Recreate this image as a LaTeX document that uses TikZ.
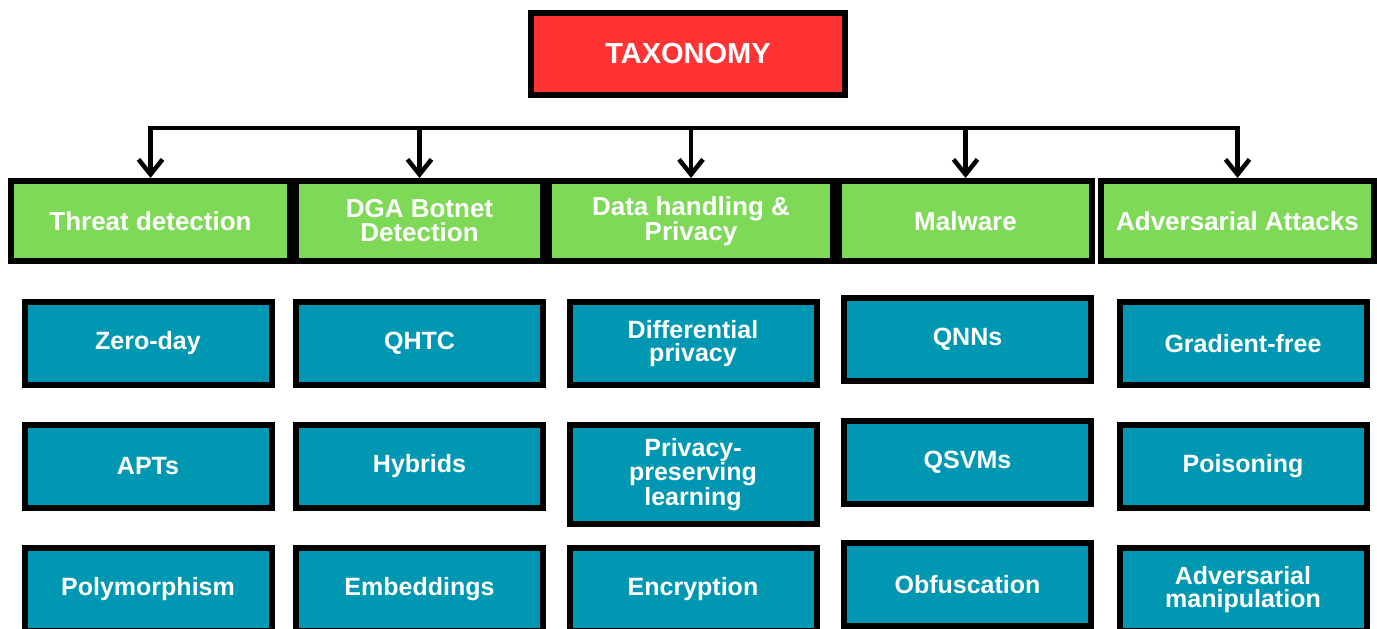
\documentclass[tikz,border=0pt]{standalone}
\usepackage{fontspec}
\setmainfont{Liberation Sans}
\usetikzlibrary{arrows.meta, positioning}
\definecolor{taxred}{RGB}{255,51,51}
\definecolor{catgreen}{RGB}{126,217,87}
\definecolor{leafblue}{RGB}{0,151,178}

\begin{document}
\begin{tikzpicture}[
        x=1pt, y=-1pt,
        rootbox/.style={rectangle, draw=black, line width=6pt, fill=taxred, text=white, minimum width=314pt, minimum height=82pt, align=center, font=\fontsize{29}{30}\selectfont\bfseries},
        catbox/.style={rectangle, draw=black, line width=6pt, fill=catgreen, text=white, minimum height=80pt, align=center, font=\fontsize{26}{24}\selectfont\bfseries},
        leafbox/.style={rectangle, draw=black, line width=6pt, fill=leafblue, text=white, minimum width=247pt, minimum height=83pt, align=center, font=\fontsize{25}{23}\selectfont\bfseries},
        link/.style={line width=4.5pt, line cap=rect},
        branch/.style={line width=4.5pt, -{Straight Barb[length=15pt, width=24pt]}}
    ]
        \useasboundingbox (0,0) rectangle (1377,629);

        \node[rootbox] (root) at (688,53.5) {TAXONOMY};
        \coordinate (bar) at (0,128);

        % categories
        \node[catbox, minimum width=279pt] (threat) at (150.5,221) {Threat detection};
        \node[catbox, minimum width=247pt, right=0pt of threat] (dga) {DGA Botnet\\Detection};
        \node[catbox, minimum width=284pt, right=0pt of dga] (data) {Data handling \&\\Privacy};
        \node[catbox, minimum width=253pt, right=0pt of data] (malware) {Malware};
        \node[catbox, minimum width=273pt, right=3pt of malware] (adv) {Adversarial Attacks};

        \draw[link] (threat.north |- bar) -- (adv.north |- bar);
        \draw[branch] (threat.north |- bar) -- (threat.north);
        \draw[branch] (dga.north |- bar) -- (dga.north);
        \draw[branch] (data.north |- bar) -- (data.north);
        \draw[branch] (malware.north |- bar) -- (malware.north);
        \draw[branch] (adv.north |- bar) -- (adv.north);

        % leaves
        \node[leafbox] (zeroday) at (148,343.5) {Zero-day};
        \node[leafbox, below=34pt of zeroday] (apts) {APTs};
        \node[leafbox, below=34pt of apts] (poly) {Polymorphism};

        \node[leafbox] (qhtc) at (419.5,343.5) {QHTC};
        \node[leafbox, below=34pt of qhtc] (hybrids) {Hybrids};
        \node[leafbox, below=34pt of hybrids] (embed) {Embeddings};

        \node[leafbox] (diffpriv) at (693,343.5) {Differential\\privacy};
        \node[leafbox, minimum height=99pt, below=34pt of diffpriv] (pplearn) {Privacy-\\preserving\\learning};
        \node[leafbox, below=18pt of pplearn] (encrypt) {Encryption};

        \node[leafbox] (qnns) at (967.5,339.5) {QNNs};
        \node[leafbox, below=34pt of qnns] (qsvms) {QSVMs};
        \node[leafbox, below=33pt of qsvms] (obfusc) {Obfuscation};

        \node[leafbox] (gradfree) at (1243,343.5) {Gradient-free};
        \node[leafbox, below=34pt of gradfree] (poison) {Poisoning};
        \node[leafbox, below=34pt of poison] (advmanip) {Adversarial\\manipulation};
    \end{tikzpicture}
\end{document}
